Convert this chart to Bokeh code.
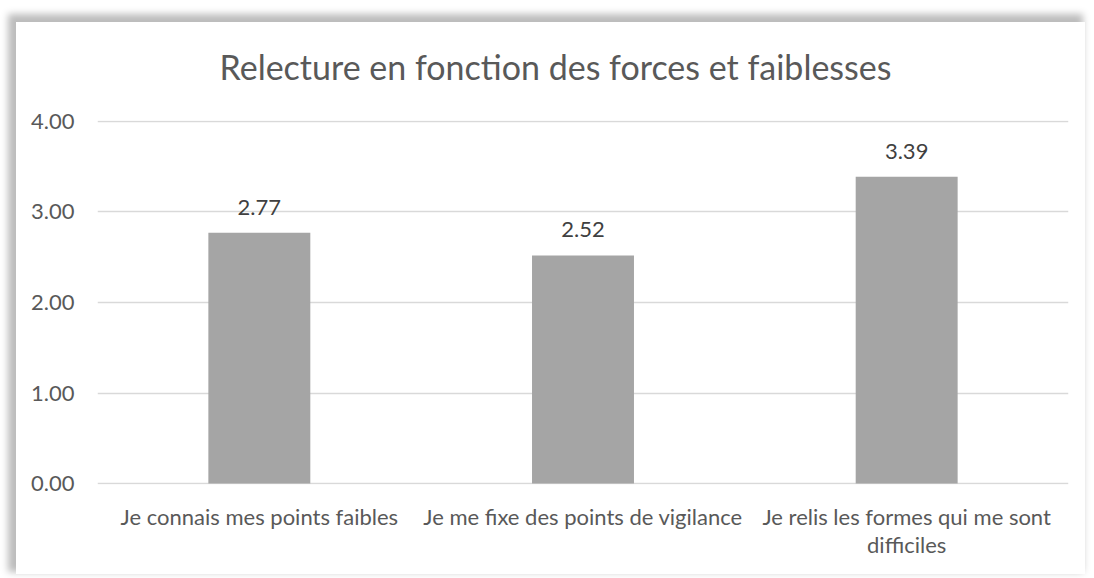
from bokeh.plotting import figure
from bokeh.models import (ColumnDataSource, LabelSet, FactorRange, Range1d, FixedTicker,
                          CustomJSTickFormatter, CategoricalAxis, Div)
from bokeh.layouts import column
from bokeh.core.properties import value
from bokeh.embed import file_html
from bokeh.resources import INLINE

title_text = "Relecture en fonction des forces et faiblesses"
# categories (first line of each label) and second line for wrapped label
categories = ["Je connais mes points faibles", "Je me fixe des points de vigilance",
              "Je relis les formes qui me sont"]
label_line2 = [" ", "  ", "difficiles"]
values = [2.77, 2.52, 3.39]
value_labels = ["2.77", "2.52", "3.39"]
y_ticks = [0, 1, 2, 3, 4]

FONT = "Lato"
TXT = "#595959"

src = ColumnDataSource(dict(cat=categories, val=values, lab=value_labels))

title = Div(text=('<div style="width:1069px;text-align:center;font-family:Lato;font-size:34px;'
                  'line-height:normal;color:#595959;padding-top:24px;padding-left:10px;'
                  'box-sizing:border-box;margin:0;white-space:nowrap">' + title_text + '</div>'),
            width=1069, height=70, margin=(0, 0, 0, 0))

p = figure(width=1069, height=482, x_range=FactorRange(*categories, range_padding=0),
           y_range=Range1d(-0.01, 4.01), output_backend="svg", toolbar_location=None,
           min_border_left=81, min_border_right=17, min_border_top=28, min_border_bottom=90)
p.extra_x_ranges = {"line2": FactorRange(*label_line2, range_padding=0)}

p.vbar(x="cat", top="val", width=0.315, source=src, color="#A5A5A5", line_color=None)

labels = LabelSet(x="cat", y="val", text="lab", source=src, text_align="center",
                  text_baseline="alphabetic", y_offset=18, text_font_size="22px",
                  text_color="#404040", text_font=value(FONT))
p.add_layout(labels)

p.xaxis.major_label_standoff = 12
ax2 = CategoricalAxis(x_range_name="line2", major_label_standoff=-8)
p.add_layout(ax2, "below")

p.yaxis.ticker = FixedTicker(ticks=y_ticks)
p.yaxis.formatter = CustomJSTickFormatter(code="return tick.toFixed(2);")
for ax in (p.xaxis[0], ax2, p.yaxis[0]):
    ax.axis_line_color = None
    ax.major_tick_line_color = None
    ax.minor_tick_line_color = None
    ax.major_label_text_color = TXT
    ax.major_label_text_font = FONT
    ax.major_label_text_font_size = "22px"
p.yaxis.major_label_standoff = 17

p.xgrid.grid_line_color = None
p.ygrid.grid_line_color = "#D9D9D9"
p.ygrid.grid_line_width = 1.5
p.ygrid.ticker = FixedTicker(ticks=y_ticks)
p.outline_line_color = None

layout = column(title, p, spacing=0)
layout.styles = {"margin-left": "8px", "margin-top": "14px", "position": "relative",
                 "left": "8px", "top": "8px", "background-color": "white",
                 "box-shadow": "-5px -5px 7px 3px #bdbdbd"}

open("out.html", "w").write(file_html(layout, INLINE))
